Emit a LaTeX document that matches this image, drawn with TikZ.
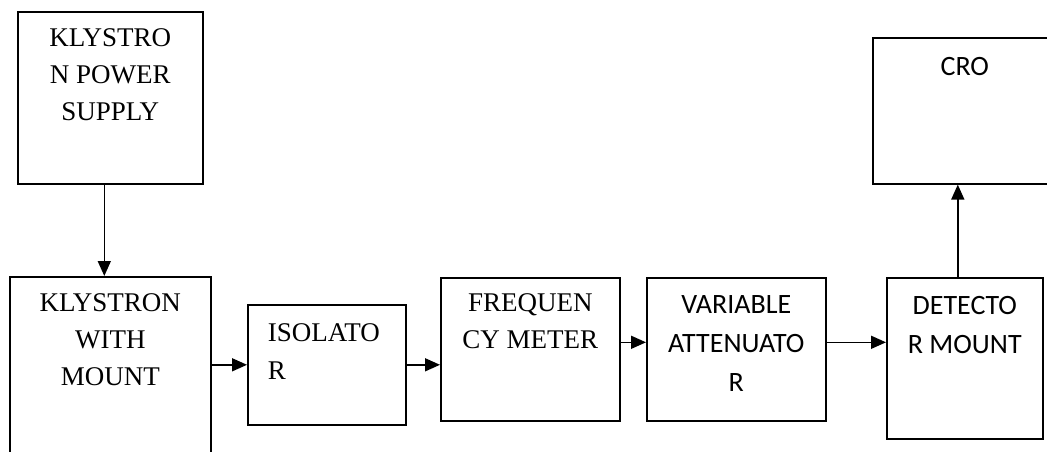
\documentclass[tikz,border=0pt]{standalone}
\usepackage{fontspec}
\setmainfont{Liberation Serif}
\setsansfont{Carlito}
\usepackage{tikz}
\usetikzlibrary{arrows.meta, positioning, calc}
\usepackage{xcolor}
\definecolor{ink}{RGB}{0,0,0}

\begin{document}
\begin{tikzpicture}[x=1pt, y=-1pt, line width=1.6pt, draw=ink,
  blk/.style={draw=ink, rectangle, anchor=north west, inner sep=0pt},
  txt/.style={anchor=north, align=center, inner sep=0pt, font=\fontsize{27}{37}\selectfont},
  stxt/.style={anchor=north, align=center, inner sep=0pt, font=\sffamily\fontsize{28}{39}\selectfont},
  arr/.style={-{Triangle[length=15pt, width=13pt]}}]
  \useasboundingbox (0,0) rectangle (1047,452);
  % blocks
  \node[blk, minimum width=185, minimum height=172] (ps) at (17,11) {};
  \node[blk, minimum width=201, minimum height=200] (kwm) at (9,276) {};
  \node[blk, minimum width=158, minimum height=120] (iso) at (247,304) {};
  \node[blk, minimum width=179, minimum height=143] (frq) at (440,277) {};
  \node[blk, minimum width=179, minimum height=143] (att) at (646,277) {};
  \node[blk, minimum width=156, minimum height=161] (det) at (886,277) {};
  \node[blk, minimum width=184, minimum height=146] (cro) at (872,37) {};
  % labels
  \node[txt] (psl) at ([yshift=-17pt]ps.north) {KLYSTRO\\N POWER\\SUPPLY};
  \node[txt] (kwml) at ([yshift=-17pt]kwm.north) {KLYSTRON\\WITH\\MOUNT};
  \node[txt, anchor=north west, align=left, font=\fontsize{27}{38}\selectfont] (isol)
    at ([xshift=20pt, yshift=-19pt]iso.north west) {ISOLATO\\R};
  \node[txt] (frql) at ([yshift=-16pt]frq.north) {FREQUEN\\CY METER};
  \node[stxt] (attl) at ([yshift=-18pt]att.north) {VARIABLE\\ATTENUATO\\R};
  \node[stxt] (detl) at ([yshift=-19pt]det.north) {DETECTO\\R MOUNT};
  \node[stxt] (crol) at ([yshift=-20pt]cro.north) {CRO};
  % connections
  \draw[arr] ([xshift=-6pt]ps.south) -- ([xshift=-6pt]ps.south |- kwm.north);
  \draw[arr] (kwm.east |- iso.west) -- (iso.west);
  \draw[arr] (iso.east) -- (iso.east -| frq.west);
  \draw[arr] ([yshift=7pt]frq.east) -- ([yshift=7pt]att.west);
  \draw[arr] ([yshift=7pt]att.east) -- ([yshift=7pt]att.east -| det.west);
  \draw[arr] ([xshift=-7pt]det.north) -- ([xshift=-7pt]det.north |- cro.south);
\end{tikzpicture}
\end{document}
